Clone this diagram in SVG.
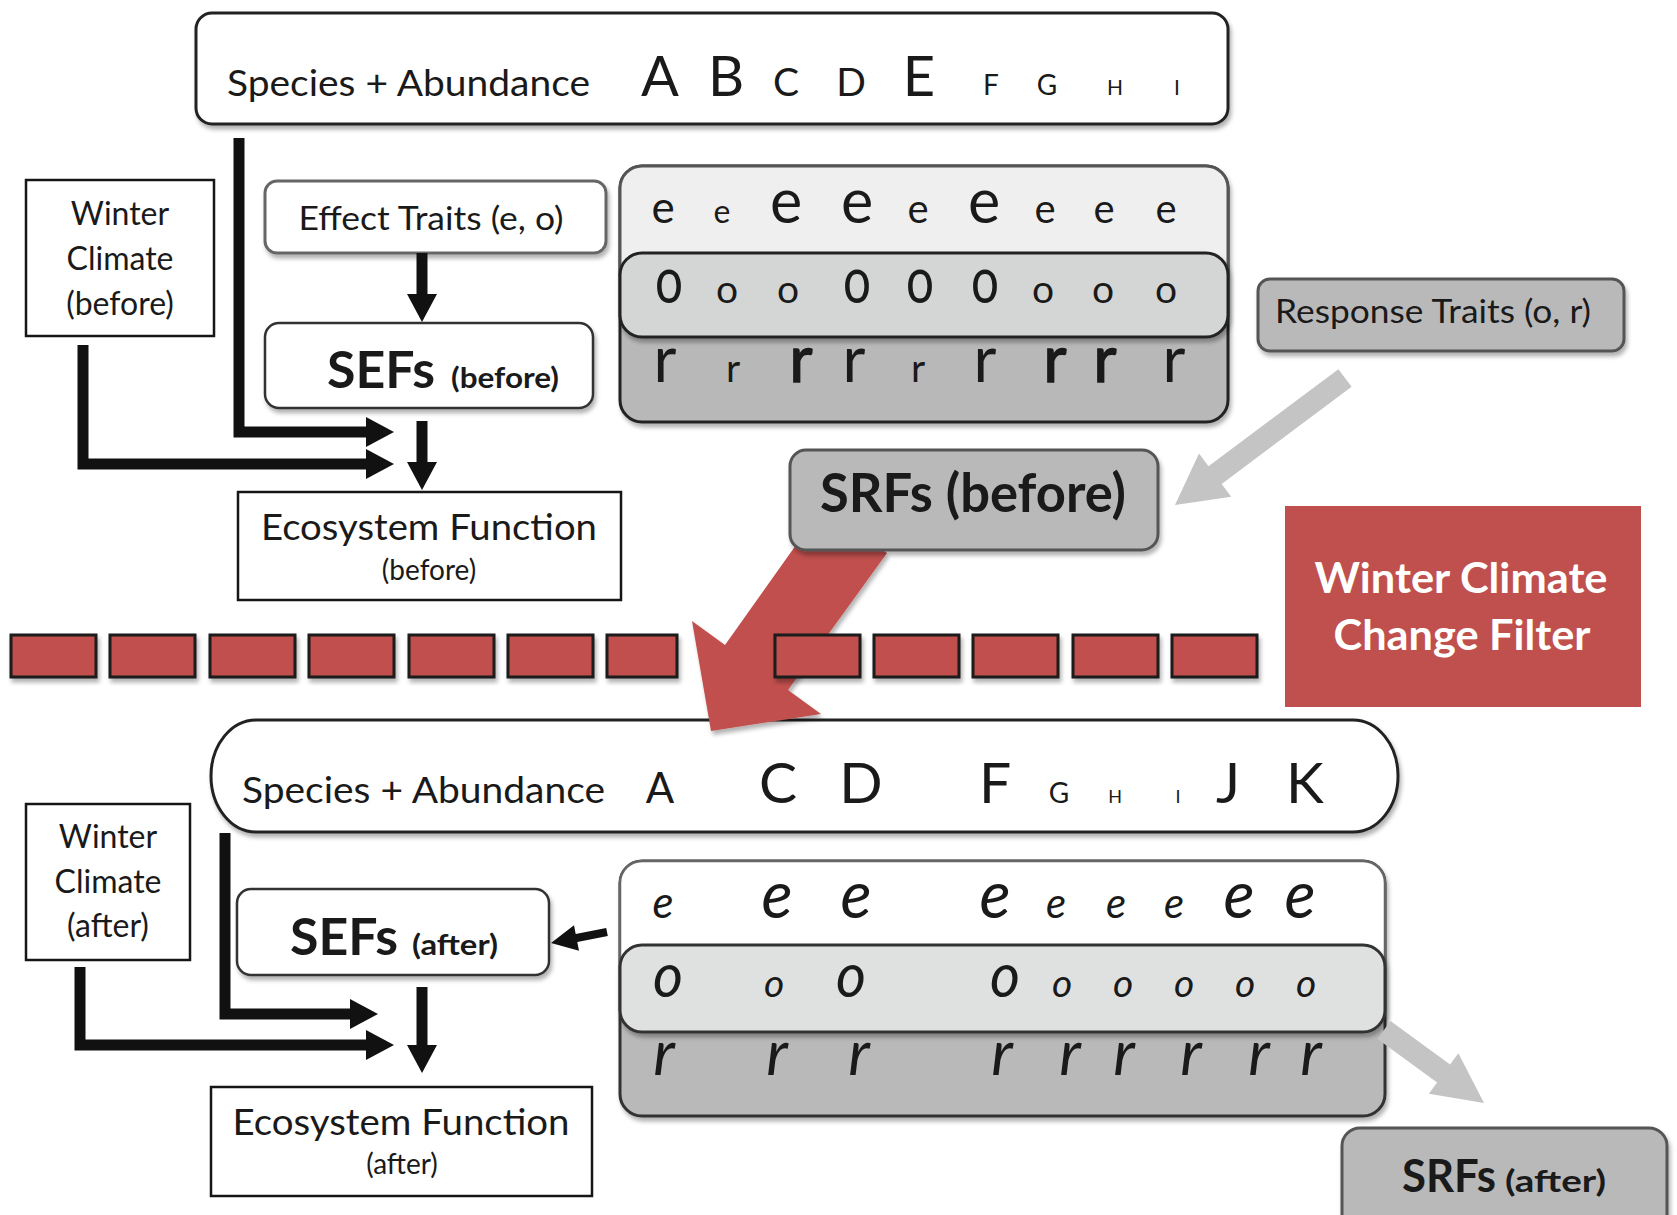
<svg xmlns="http://www.w3.org/2000/svg" width="1677" height="1215" viewBox="0 0 1677 1215">
<defs>
<style>
.t{font-family:Lato,"Open Sans","Liberation Sans",sans-serif;fill:#1a1a1a}
.b{font-weight:bold}
.hv{stroke:#1a1a1a;stroke-width:1.6}
.i{font-style:italic}
.m{text-anchor:middle}
.box{fill:#fff;stroke:#161616;stroke-width:2.5}
.rbox{fill:#fff;stroke:#666;stroke-width:3}
.gbox{fill:#b9b9b9;stroke:#555;stroke-width:3}
.dash{fill:#c0504d;stroke:#1a1a1a;stroke-width:3}
.wire{fill:none;stroke:#111;stroke-width:11;marker-end:url(#ah)}
.garrow{fill:#c4c4c4}
</style>
<marker id="ah" markerUnits="userSpaceOnUse" markerWidth="30" markerHeight="30" refX="8" refY="15" orient="auto">
<path d="M0,0 L28,15 L0,30 Z" fill="#111"/>
</marker>
<filter id="sh" x="-10%" y="-10%" width="120%" height="130%">
<feDropShadow dx="2" dy="4" stdDeviation="2" flood-color="#000" flood-opacity="0.3"/>
</filter>
</defs>
<rect width="1677" height="1215" fill="#fff"/>

<g id="species-before">
<rect x="196" y="13" width="1032" height="111" rx="16" fill="#fff" stroke="#222" stroke-width="3" filter="url(#sh)"/>
<text class="t" x="227" y="96" font-size="36" textLength="363" lengthAdjust="spacingAndGlyphs">Species + Abundance</text>
<g class="t m">
<text x="660" y="96" font-size="56">A</text>
<text x="726" y="96" font-size="56">B</text>
<text x="786" y="96" font-size="39">C</text>
<text x="851" y="96" font-size="39">D</text>
<text x="919" y="96" font-size="56">E</text>
<text x="991" y="95" font-size="28">F</text>
<text x="1047" y="95" font-size="28">G</text>
<text x="1115" y="95" font-size="21">H</text>
<text x="1177" y="95" font-size="21">I</text>
</g>
</g>

<g id="winter-before">
<rect class="box" x="26" y="180" width="188" height="156"/>
<text class="t m" x="120" y="225" font-size="32">Winter</text>
<text class="t m" x="120" y="270" font-size="32">Climate</text>
<text class="t m" x="120" y="315" font-size="32">(before)</text>
</g>

<g id="effect-traits">
<rect class="rbox" x="265" y="181" width="341" height="72" rx="12" filter="url(#sh)"/>
<text class="t m" x="431" y="230" font-size="33" textLength="265" lengthAdjust="spacingAndGlyphs">Effect Traits (e, o)</text>
</g>

<g id="sefs-before">
<rect x="265" y="323" width="328" height="85" rx="14" fill="#fff" stroke="#333" stroke-width="2.5" filter="url(#sh)"/>
<text class="t b" x="327" y="388" font-size="52" textLength="108" lengthAdjust="spacingAndGlyphs">SEFs</text>
<text class="t b" x="451" y="388" font-size="29" textLength="108" lengthAdjust="spacingAndGlyphs">(before)</text>
</g>

<g id="ef-before">
<rect class="box" x="238" y="492" width="383" height="108"/>
<text class="t m" x="429" y="540" font-size="36" textLength="336" lengthAdjust="spacingAndGlyphs">Ecosystem Function</text>
<text class="t m" x="429" y="580" font-size="28">(before)</text>
</g>

<g id="traits-before">
<rect x="620" y="166" width="608" height="256" rx="22" fill="#b8b8b8" stroke="#222" stroke-width="3" filter="url(#sh)"/>
<rect x="620" y="166" width="608" height="130" rx="22" fill="#efefef" stroke="#555" stroke-width="3"/>
<rect x="620" y="253" width="608" height="84" rx="22" fill="#d4d6d6" stroke="#222" stroke-width="3" filter="url(#sh)"/>
<g class="t m">
<text x="663" y="223" font-size="44">e</text>
<text x="722" y="223" font-size="32">e</text>
<text x="786" y="223" font-size="61">e</text>
<text x="857" y="223" font-size="61">e</text>
<text x="918" y="223" font-size="40">e</text>
<text x="984" y="223" font-size="61">e</text>
<text x="1045" y="223" font-size="40">e</text>
<text x="1104" y="223" font-size="40">e</text>
<text x="1166" y="223" font-size="40">e</text>
<text x="669" y="303" font-size="64" textLength="28" lengthAdjust="spacingAndGlyphs">o</text>
<text x="727" y="303" font-size="39">o</text>
<text x="788" y="303" font-size="39">o</text>
<text x="857" y="303" font-size="64" textLength="28" lengthAdjust="spacingAndGlyphs">o</text>
<text x="920" y="303" font-size="64" textLength="28" lengthAdjust="spacingAndGlyphs">o</text>
<text x="985" y="303" font-size="64" textLength="28" lengthAdjust="spacingAndGlyphs">o</text>
<text x="1043" y="303" font-size="39">o</text>
<text x="1103" y="303" font-size="39">o</text>
<text x="1166" y="303" font-size="39">o</text>
<text x="665" y="382" font-size="63">r</text>
<text x="733" y="382" font-size="39">r</text>
<text class="hv" x="801" y="382" font-size="63">r</text>
<text x="854" y="382" font-size="63">r</text>
<text x="918" y="382" font-size="39">r</text>
<text x="985" y="382" font-size="63">r</text>
<text class="hv" x="1055" y="382" font-size="63">r</text>
<text class="hv" x="1105" y="382" font-size="63">r</text>
<text x="1174" y="382" font-size="63">r</text>
</g>
</g>

<g id="response-traits">
<rect class="gbox" x="1258" y="279" width="366" height="72" rx="12" filter="url(#sh)"/>
<text class="t m" x="1433" y="323" font-size="32" textLength="316" lengthAdjust="spacingAndGlyphs">Response Traits (o, r)</text>
</g>

<g id="filter-box">
<rect x="1285" y="506" width="356" height="201" fill="#c0504d"/>
<text class="t b m" x="1461" y="593" font-size="42" style="fill:#fff" textLength="293" lengthAdjust="spacingAndGlyphs">Winter Climate</text>
<text class="t b m" x="1462" y="650" font-size="42" style="fill:#fff" textLength="257" lengthAdjust="spacingAndGlyphs">Change Filter</text>
</g>

<g id="species-after">
<rect x="211" y="720" width="1187" height="112" rx="45" ry="56" fill="#fff" stroke="#222" stroke-width="3" filter="url(#sh)"/>
<text class="t" x="242" y="803" font-size="36" textLength="363" lengthAdjust="spacingAndGlyphs">Species + Abundance</text>
<g class="t m">
<text x="660" y="803" font-size="42">A</text>
<text x="778" y="803" font-size="57">C</text>
<text x="861" y="803" font-size="57">D</text>
<text x="995" y="803" font-size="57">F</text>
<text x="1059" y="803" font-size="28">G</text>
<text x="1115" y="803" font-size="18">H</text>
<text x="1178" y="803" font-size="18">I</text>
<text x="1228" y="803" font-size="57">J</text>
<text x="1305" y="803" font-size="57">K</text>
</g>
</g>

<g id="winter-after">
<rect class="box" x="26" y="804" width="164" height="156"/>
<text class="t m" x="108" y="848" font-size="32">Winter</text>
<text class="t m" x="108" y="893" font-size="32">Climate</text>
<text class="t m" x="108" y="937" font-size="32">(after)</text>
</g>

<g id="sefs-after">
<rect x="237" y="889" width="312" height="86" rx="14" fill="#fff" stroke="#333" stroke-width="2.5" filter="url(#sh)"/>
<text class="t b" x="290" y="955" font-size="52" textLength="108" lengthAdjust="spacingAndGlyphs">SEFs</text>
<text class="t b" x="412" y="955" font-size="29" textLength="86" lengthAdjust="spacingAndGlyphs">(after)</text>
</g>

<g id="ef-after">
<rect class="box" x="211" y="1087" width="381" height="109"/>
<text class="t m" x="401" y="1135" font-size="36" textLength="337" lengthAdjust="spacingAndGlyphs">Ecosystem Function</text>
<text class="t m" x="402" y="1174" font-size="28">(after)</text>
</g>

<g id="traits-after">
<rect x="620" y="861" width="765" height="255" rx="22" fill="#b9b9b9" stroke="#333" stroke-width="3" filter="url(#sh)"/>
<rect x="620" y="861" width="765" height="130" rx="22" fill="#fff" stroke="#666" stroke-width="2.5"/>
<rect x="620" y="945" width="765" height="87" rx="22" fill="#dfe0e0" stroke="#333" stroke-width="3" filter="url(#sh)"/>
<g class="t m i">
<text x="663" y="918" font-size="44">e</text>
<text x="777" y="918" font-size="65">e</text>
<text x="856" y="918" font-size="65">e</text>
<text x="995" y="918" font-size="65">e</text>
<text x="1056" y="918" font-size="42">e</text>
<text x="1116" y="918" font-size="42">e</text>
<text x="1174" y="918" font-size="42">e</text>
<text x="1239" y="918" font-size="65">e</text>
<text x="1300" y="918" font-size="65">e</text>
<text x="668" y="997" font-size="63" textLength="30" lengthAdjust="spacingAndGlyphs">o</text>
<text x="774" y="997" font-size="39">o</text>
<text x="851" y="997" font-size="63" textLength="30" lengthAdjust="spacingAndGlyphs">o</text>
<text x="1005" y="997" font-size="63" textLength="30" lengthAdjust="spacingAndGlyphs">o</text>
<text x="1062" y="997" font-size="39">o</text>
<text x="1123" y="997" font-size="39">o</text>
<text x="1184" y="997" font-size="39">o</text>
<text x="1245" y="997" font-size="39">o</text>
<text x="1306" y="997" font-size="39">o</text>
<text x="664" y="1075" font-size="63">r</text>
<text x="777" y="1075" font-size="63">r</text>
<text x="859" y="1075" font-size="63">r</text>
<text x="1002" y="1075" font-size="63">r</text>
<text x="1070" y="1075" font-size="63">r</text>
<text x="1124" y="1075" font-size="63">r</text>
<text x="1191" y="1075" font-size="63">r</text>
<text x="1259" y="1075" font-size="63">r</text>
<text x="1311" y="1075" font-size="63">r</text>
</g>
</g>

<g id="connectors">
<path class="wire" d="M239,138 V432 H374"/>
<path class="wire" d="M83,345 V464 H374"/>
<path class="wire" d="M422,253 V302"/>
<path class="wire" d="M422,421 V470"/>
<path class="wire" d="M225,833 V1014 H358"/>
<path class="wire" d="M80,967 V1045 H374"/>
<path class="wire" d="M422,987 V1053"/>
<polygon points="607.8,935.9 577.3,941.9 579,950.8 551,943 574,925.2 575.7,934.1 606.2,928.1" fill="#111"/>
<polygon class="garrow" points="1351.6,386.8 1221.7,483.9 1231.2,496.7 1175,505 1199,453.5 1208.5,466.3 1338.4,369.2"/>
<polygon class="garrow" points="1377.5,1038.9 1437.1,1082.4 1428.9,1093.7 1484,1103 1458.4,1053.3 1450.1,1064.6 1390.5,1021.1"/>
<polygon points="823,507 725,645 692,621 711,731 821,714 788,690 887,553" fill="#c0504d" filter="url(#sh)"/>
</g>

<g id="filter-line">
<g filter="url(#sh)">
<rect class="dash" x="11" y="635" width="85" height="42"/>
<rect class="dash" x="110" y="635" width="85" height="42"/>
<rect class="dash" x="210" y="635" width="85" height="42"/>
<rect class="dash" x="309" y="635" width="85" height="42"/>
<rect class="dash" x="409" y="635" width="85" height="42"/>
<rect class="dash" x="508" y="635" width="85" height="42"/>
<rect class="dash" x="607" y="635" width="70" height="42"/>
<rect class="dash" x="775" y="635" width="85" height="42"/>
<rect class="dash" x="874" y="635" width="85" height="42"/>
<rect class="dash" x="973" y="635" width="85" height="42"/>
<rect class="dash" x="1073" y="635" width="85" height="42"/>
<rect class="dash" x="1172" y="635" width="85" height="42"/>
</g>
</g>

<g id="srfs-before">
<rect class="gbox" x="790" y="450" width="368" height="100" rx="16" filter="url(#sh)"/>
<text class="t b m" x="973" y="512" font-size="54" textLength="306" lengthAdjust="spacingAndGlyphs">SRFs (before)</text>
</g>

<g id="srfs-after">
<rect class="gbox" x="1342" y="1128" width="325" height="110" rx="18" filter="url(#sh)"/>
<text class="t b" x="1402" y="1192" font-size="45" textLength="94" lengthAdjust="spacingAndGlyphs">SRFs</text>
<text class="t b" x="1505" y="1192" font-size="31" textLength="101" lengthAdjust="spacingAndGlyphs">(after)</text>
</g>
</svg>
